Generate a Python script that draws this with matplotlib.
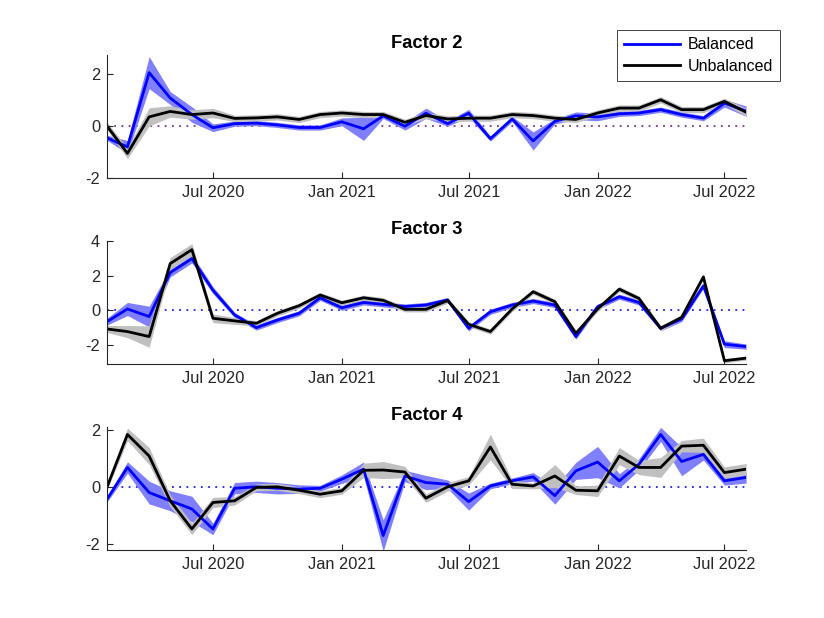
import numpy as np
import pandas as pd
import matplotlib
matplotlib.use('Agg')
import matplotlib.pyplot as plt
import matplotlib.dates as mdates

plt.rcParams['font.family'] = ['Liberation Sans', 'DejaVu Sans']
plt.rcParams['axes.unicode_minus'] = False

dates = pd.date_range('2020-02-01', periods=31, freq='MS')

# Factor 2
f2_bal = [-0.45, -0.8, 2.07, 1.09, 0.45, -0.06, 0.1, 0.12, 0.05, -0.05, -0.05, 0.17, -0.1, 0.4, 0.0, 0.5,
          0.1, 0.5, -0.48, 0.28, -0.57, 0.19, 0.4, 0.36, 0.48, 0.51, 0.64, 0.45, 0.31, 0.89, 0.58]
f2_bal_w = [0.1, 0.25, 0.62, 0.25, 0.3, 0.15, 0.1, 0.1, 0.1, 0.1, 0.1, 0.15, 0.45, 0.1, 0.15, 0.2,
            0.1, 0.15, 0.1, 0.1, 0.35, 0.1, 0.15, 0.15, 0.1, 0.1, 0.1, 0.1, 0.1, 0.15, 0.2]
f2_unb = [0.0, -1.05, 0.36, 0.57, 0.45, 0.51, 0.3, 0.32, 0.36, 0.26, 0.45, 0.51, 0.45, 0.45, 0.15, 0.41,
          0.28, 0.31, 0.31, 0.45, 0.41, 0.31, 0.26, 0.51, 0.7, 0.7, 1.02, 0.64, 0.64, 0.96, 0.54]
f2_unb_w = [0.15, 0.2, 0.35, 0.22, 0.18, 0.18, 0.12, 0.12, 0.12, 0.12, 0.12, 0.12, 0.12, 0.12, 0.12, 0.12,
            0.12, 0.12, 0.12, 0.12, 0.12, 0.12, 0.12, 0.12, 0.12, 0.12, 0.12, 0.12, 0.12, 0.12, 0.15]

# Factor 3
f3_bal = [-0.67, 0.06, -0.38, 2.17, 2.98, 1.15, -0.29, -1.02, -0.58, -0.19, 0.71, 0.13, 0.44, 0.33, 0.2, 0.29,
          0.58, -1.06, -0.1, 0.29, 0.52, 0.29, -1.54, 0.19, 0.77, 0.44, -1.06, -0.52, 1.4, -1.98, -2.12]
f3_bal_w = [0.2, 0.38, 0.6, 0.25, 0.25, 0.2, 0.15, 0.15, 0.15, 0.15, 0.15, 0.15, 0.15, 0.15, 0.15, 0.15,
            0.15, 0.15, 0.15, 0.15, 0.15, 0.15, 0.15, 0.15, 0.15, 0.15, 0.15, 0.15, 0.15, 0.2, 0.15]
f3_unb = [-1.1, -1.25, -1.54, 2.69, 3.5, -0.48, -0.63, -0.77, -0.19, 0.25, 0.87, 0.42, 0.71, 0.56, 0.04, 0.04,
          0.55, -0.83, -1.25, 0.06, 1.06, 0.48, -1.35, 0.06, 1.21, 0.67, -1.06, -0.42, 1.92, -2.94, -2.79]
f3_unb_w = [0.2, 0.35, 0.62, 0.35, 0.35, 0.25, 0.2, 0.15, 0.15, 0.15, 0.15, 0.15, 0.15, 0.15, 0.15, 0.15,
            0.15, 0.15, 0.15, 0.15, 0.15, 0.15, 0.15, 0.15, 0.15, 0.15, 0.15, 0.15, 0.15, 0.12, 0.12]

# Factor 4
f4_bal = [-0.43, 0.68, -0.2, -0.49, -0.78, -1.48, -0.05, 0.0, -0.05, -0.08, -0.05, 0.27, 0.62, -1.71, 0.38, 0.15,
          0.09, -0.52, 0.03, 0.21, 0.35, -0.31, 0.56, 0.87, 0.21, 0.79, 1.84, 0.89, 1.14, 0.21, 0.33]
f4_bal_w = [0.1, 0.2, 0.4, 0.35, 0.45, 0.2, 0.2, 0.2, 0.2, 0.15, 0.1, 0.15, 0.25, 0.55, 0.2, 0.25,
            0.15, 0.3, 0.1, 0.1, 0.15, 0.3, 0.3, 0.55, 0.25, 0.2, 0.25, 0.5, 0.2, 0.15, 0.2]
f4_unb = [0.0, 1.84, 1.08, -0.49, -1.48, -0.55, -0.49, -0.02, 0.0, -0.12, -0.26, -0.14, 0.58, 0.59, 0.52, -0.4,
          0.0, 0.21, 1.4, 0.09, 0.03, 0.38, -0.12, -0.14, 1.08, 0.68, 0.68, 1.43, 1.46, 0.5, 0.62]
f4_unb_w = [0.1, 0.22, 0.3, 0.2, 0.2, 0.18, 0.15, 0.12, 0.12, 0.12, 0.12, 0.12, 0.25, 0.3, 0.2, 0.15,
            0.15, 0.15, 0.45, 0.15, 0.1, 0.4, 0.15, 0.2, 0.3, 0.25, 0.35, 0.2, 0.25, 0.2, 0.2]

titles = ['Factor 2', 'Factor 3', 'Factor 4']
ylims = [(-2, 2.75), (-3.13, 4), (-2.22, 2.1)]
yticks = [[-2, 0, 2], [-2, 0, 2, 4], [-2, 0, 2]]
zero_colors = ['#7E2F8E', '#2020e0', '#2020e0']
bottoms = [0.712, 0.411, 0.11]

series = [(f2_bal, f2_bal_w, f2_unb, f2_unb_w),
          (f3_bal, f3_bal_w, f3_unb, f3_unb_w),
          (f4_bal, f4_bal_w, f4_unb, f4_unb_w)]

fig = plt.figure(figsize=(8.24, 6.18), dpi=100)
axc = '#262626'

for k in range(3):
    bal, bal_w, unb, unb_w = [np.array(a) for a in series[k]]
    ax = fig.add_axes([0.13, bottoms[k], 0.7755, 0.199])
    ax.fill_between(dates, bal - bal_w, bal + bal_w, color='#8080ff', lw=0)
    l1, = ax.plot(dates, bal, color='blue', lw=2, label='Balanced')
    ax.fill_between(dates, unb - unb_w, unb + unb_w, color='#c0c0c0', lw=0)
    l2, = ax.plot(dates, unb, color='black', lw=2, label='Unbalanced')
    ax.axhline(0, color=zero_colors[k], ls=(0, (1, 3)), lw=1.3, zorder=0.5)

    ax.set_xlim(dates[0], dates[-1])
    ax.set_ylim(*ylims[k])
    ax.set_yticks(yticks[k])
    ax.xaxis.set_major_locator(mdates.MonthLocator(bymonth=[1, 7]))
    ax.xaxis.set_major_formatter(mdates.DateFormatter('%b %Y'))
    ax.spines['top'].set_visible(False)
    ax.spines['right'].set_visible(False)
    for s in ['left', 'bottom']:
        ax.spines[s].set_color(axc)
        ax.spines[s].set_linewidth(0.8)
    ax.tick_params(direction='in', length=4.3, width=0.8, color=axc, labelcolor=axc,
                   labelsize=11.8, pad=5)
    ax.set_title(titles[k], fontsize=13.2, fontweight='bold', pad=5)

    if k == 0:
        leg = ax.legend(handles=[l1, l2], loc='upper right',
                        bbox_to_anchor=(780 / 824, 1 - 30 / 618), bbox_transform=fig.transFigure,
                        borderaxespad=0, fontsize=11.5, handlelength=3.5, handletextpad=0.45,
                        fancybox=False, framealpha=1, edgecolor=axc, borderpad=0.45,
                        labelspacing=0.42)
        leg.get_frame().set_linewidth(0.6)

fig.savefig('out.png', dpi=100)
